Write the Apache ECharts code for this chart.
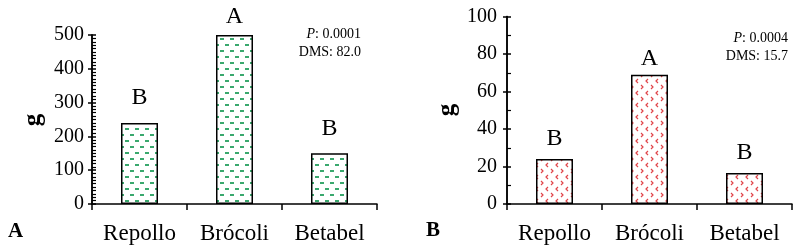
<!DOCTYPE html>
<html>
<head>
<meta charset="utf-8">
<script src="https://cdn.jsdelivr.net/npm/echarts@6/dist/echarts.min.js"></script>
<style>
  html, body { margin: 0; padding: 0; background: #fff; }
  #chart { width: 796px; height: 252px; }
</style>
</head>
<body>
<div id="chart"></div>
<script>
var categories = ['Repollo', 'Brócoli', 'Betabel'];
var valuesA = [240, 500, 150];
var valuesB = [24, 69, 16.5];
var lettersA = ['B', 'A', 'B'];
var lettersB = ['B', 'A', 'B'];
var statsA = ['{i|P}: 0.0001', 'DMS: 82.0'];
var statsB = ['{i|P}: 0.0004', 'DMS: 15.7'];

var serif = '"Liberation Serif", "Times New Roman", serif';

// green dash pattern for panel A
function dashPattern() {
    var c = document.createElement('canvas');
    c.width = 10; c.height = 12;
    var ctx = c.getContext('2d');
    ctx.fillStyle = '#fff';
    ctx.fillRect(0, 0, 10, 12);
    ctx.fillStyle = '#3aa86e';
    ctx.fillRect(0, 2, 4, 2);
    ctx.fillRect(5, 8, 4, 2);
    return c;
}

// red chevron pattern for panel B
function chevronPattern() {
    var c = document.createElement('canvas');
    c.width = 10; c.height = 12;
    var ctx = c.getContext('2d');
    ctx.fillStyle = '#fff';
    ctx.fillRect(0, 0, 10, 12);
    ctx.strokeStyle = '#e0454a';
    ctx.lineWidth = 1.2;
    ctx.beginPath();
    ctx.moveTo(1, 1); ctx.lineTo(3, 3); ctx.lineTo(1, 5);
    ctx.moveTo(8, 7); ctx.lineTo(6, 9); ctx.lineTo(8, 11);
    ctx.stroke();
    return c;
}

function yAxes(gridIndex, max, interval, minorSplit, margin) {
    var base = {
        type: 'value', gridIndex: gridIndex, position: 'left', offset: 0,
        min: 0, max: max, interval: interval,
        splitLine: { show: false },
        axisLine: { show: true, lineStyle: { color: '#000', width: 1.5 } }
    };
    return [
        Object.assign({}, base, {
            axisTick: { show: true, inside: false, length: 4, lineStyle: { color: '#000', width: 1.5 } },
            axisLabel: { color: '#000', fontFamily: serif, fontSize: 20, margin: margin }
        }),
        Object.assign({}, base, {
            axisTick: { show: true, inside: true, length: 4, lineStyle: { color: '#000', width: 1.5 } },
            minorTick: { show: true, splitNumber: minorSplit, length: 4, lineStyle: { color: '#000', width: 1.2 } },
            axisLabel: { show: false }
        })
    ];
}

function xAxis(gridIndex) {
    return {
        type: 'category', gridIndex: gridIndex, data: categories,
        axisLine: { lineStyle: { color: '#000', width: 1.5 } },
        axisTick: { show: true, length: 6, lineStyle: { color: '#000', width: 1.5 } },
        axisLabel: { color: '#000', fontFamily: serif, fontSize: 23, margin: 18 }
    };
}

// letters sit at slightly different heights above the bars
function barSeries(xi, yi, values, letters, gaps, pattern) {
    return {
        type: 'bar', xAxisIndex: xi, yAxisIndex: yi, barWidth: 37,
        data: values.map(function (v, i) {
            return { value: v, label: { distance: gaps[i] } };
        }),
        itemStyle: { color: { image: pattern, repeat: 'repeat' }, borderColor: '#000', borderWidth: 1.5 },
        label: {
            show: true, position: 'top', color: '#000',
            fontFamily: serif, fontSize: 24,
            formatter: function (p) { return letters[p.dataIndex]; }
        }
    };
}

var dom = document.getElementById('chart');
var myChart = echarts.init(dom, null, { renderer: 'canvas' });

var yA = yAxes(0, 500, 100, 10, 8);
var yB = yAxes(1, 100, 20, 2, 10);

var option = {
    animation: false,
    grid: [
        { left: 92, right: 419, top: 35, bottom: 48 },
        { left: 507, right: 4, top: 16.5, bottom: 48 }
    ],
    xAxis: [xAxis(0), xAxis(1)],
    yAxis: [yA[0], yA[1], yB[0], yB[1]],
    series: [
        barSeries(0, 0, valuesA, lettersA, [13, 6, 13], dashPattern()),
        barSeries(1, 2, valuesB, lettersB, [8, 4, 8], chevronPattern())
    ],
    graphic: [
        { type: 'text', left: 8, top: 221, style: { text: 'A', fontFamily: serif, fontSize: 21, fontWeight: 'bold', fill: '#000' } },
        { type: 'text', left: 426, top: 220, style: { text: 'B', fontFamily: serif, fontSize: 21, fontWeight: 'bold', fill: '#000' } },
        { type: 'text', x: 34, y: 120, rotation: Math.PI / 2, style: { text: 'g', fontFamily: serif, fontSize: 25, fontWeight: 'bold', fill: '#000', align: 'center', verticalAlign: 'middle' } },
        { type: 'text', x: 448, y: 110, rotation: Math.PI / 2, style: { text: 'g', fontFamily: serif, fontSize: 25, fontWeight: 'bold', fill: '#000', align: 'center', verticalAlign: 'middle' } },
        { type: 'text', x: 361, y: 25, style: { text: statsA.join('\n'), fontFamily: serif, fontSize: 14, lineHeight: 18, fill: '#000', align: 'right',
            rich: { i: { fontStyle: 'italic', fontFamily: serif, fontSize: 14 } } } },
        { type: 'text', x: 788, y: 29, style: { text: statsB.join('\n'), fontFamily: serif, fontSize: 14, lineHeight: 18, fill: '#000', align: 'right',
            rich: { i: { fontStyle: 'italic', fontFamily: serif, fontSize: 14 } } } }
    ]
};

myChart.setOption(option);
window.addEventListener('resize', myChart.resize);
</script>
</body>
</html>
